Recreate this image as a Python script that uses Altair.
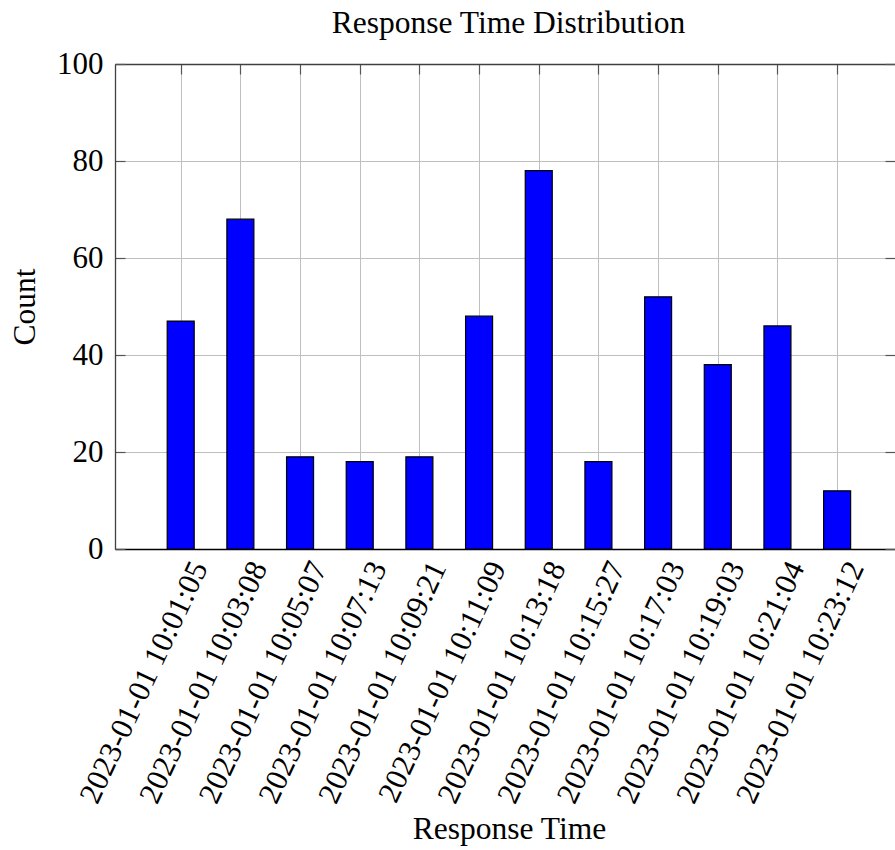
import json
import altair as alt
import pandas as pd

# Response-time buckets and their counts
times = [
    "2023-01-01 10:01:05",
    "2023-01-01 10:03:08",
    "2023-01-01 10:05:07",
    "2023-01-01 10:07:13",
    "2023-01-01 10:09:21",
    "2023-01-01 10:11:09",
    "2023-01-01 10:13:18",
    "2023-01-01 10:15:27",
    "2023-01-01 10:17:03",
    "2023-01-01 10:19:03",
    "2023-01-01 10:21:04",
    "2023-01-01 10:23:12",
]
counts = [47, 68, 19, 18, 19, 48, 78, 18, 52, 38, 46, 12]
y_ticks = [0, 20, 40, 60, 80, 100]
chart_title = "Response Time Distribution"

df = pd.DataFrame({"idx": list(range(len(times))), "time": times, "count": counts})

FONT = "Liberation Serif"
FS = 31
FRAME = "#404040"
TICK = "#555555"

x_scale = alt.Scale(domain=[-1.101, 11.97], nice=False, zero=False, padding=0)
y_scale = alt.Scale(domain=[0, 100], nice=False, padding=0)
label_expr = json.dumps(times) + "[datum.value]"

x_main = alt.Axis(
    orient="bottom",
    values=list(range(len(times))),
    labelExpr=label_expr,
    labelAngle=-65,
    labelAlign="right",
    labelBaseline="alphabetic",
    labelPadding=18,
    labelOffset=27,
    labelOverlap=False,
    labelFlush=False,
    labelBound=False,
    labelLimit=500,
    labelFont=FONT,
    labelFontSize=FS,
    labelColor="black",
    ticks=False,
    tickSize=0,
    grid=True,
    gridColor="#bfbfbf",
    gridWidth=1,
    domain=True,
    domainColor="black",
    domainWidth=1.3,
    title="Response Time",
    titleFont=FONT,
    titleFontSize=31.5,
    titleFontWeight="normal",
    titleColor="black",
    titleX=394,
    titleY=289,
    titleAlign="center",
    titleBaseline="alphabetic",
)

y_main = alt.Axis(
    orient="left",
    values=y_ticks,
    labelPadding=12,
    labelFont=FONT,
    labelFontSize=FS,
    labelColor="black",
    labelBaseline="middle",
    ticks=False,
    tickSize=0,
    grid=True,
    gridColor="#bfbfbf",
    gridWidth=1,
    domain=True,
    domainColor=FRAME,
    domainWidth=1.3,
    title="Count",
    titleFont=FONT,
    titleFontSize=31.5,
    titleFontWeight="normal",
    titleColor="black",
    titleX=-81,
    titleBaseline="alphabetic",
)


def tick_axis(orient, values):
    # inward-pointing tick marks, made by pulling the axis inside the frame
    return alt.Axis(
        orient=orient,
        offset=-10,
        values=values,
        ticks=True,
        tickSize=10,
        tickColor=TICK,
        tickWidth=1.2,
        labels=False,
        grid=False,
        domain=False,
        title=None,
    )


base = alt.Chart(df)

bars = base.mark_bar(size=27, color="#0000ff", stroke="black", strokeWidth=1.2).encode(
    x=alt.X("idx:Q", scale=x_scale, axis=x_main),
    y=alt.Y("count:Q", scale=y_scale, axis=y_main),
)

top_frame = base.mark_point(opacity=0).encode(
    x=alt.X(
        "idx:Q",
        scale=x_scale,
        axis=alt.Axis(
            orient="top", ticks=False, labels=False, grid=False, domain=True,
            domainColor=FRAME, domainWidth=1.3, title=None,
        ),
    ),
    y=alt.Y("count:Q", scale=y_scale, axis=None),
)

ticks_top_left = base.mark_point(opacity=0).encode(
    x=alt.X("idx:Q", scale=x_scale, axis=tick_axis("top", list(range(len(times))))),
    y=alt.Y("count:Q", scale=y_scale, axis=tick_axis("left", y_ticks)),
)

ticks_bottom_right = base.mark_point(opacity=0).encode(
    x=alt.X("idx:Q", scale=x_scale, axis=tick_axis("bottom", list(range(len(times))))),
    y=alt.Y("count:Q", scale=y_scale, axis=tick_axis("right", y_ticks)),
)

# chart heading, set above the plot frame
heading = (
    alt.Chart(pd.DataFrame({"label": [chart_title]}))
    .mark_text(
        font=FONT,
        fontSize=31.5,
        color="black",
        align="center",
        baseline="alphabetic",
    )
    .encode(x=alt.value(393.5), y=alt.value(-31), text="label:N")
)

chart = (
    alt.layer(ticks_top_left, ticks_bottom_right, top_frame, bars, heading)
    .resolve_axis(x="independent", y="independent")
    .properties(
        width=780,
        height=485,
        autosize=alt.AutoSizeParams(type="none"),
        padding={"left": 115, "top": 64, "right": 0, "bottom": 301},
    )
    .configure_view(stroke=None)
    .configure(background="white")
)

chart.save("out.html", embed_options={"renderer": "svg", "actions": False})
